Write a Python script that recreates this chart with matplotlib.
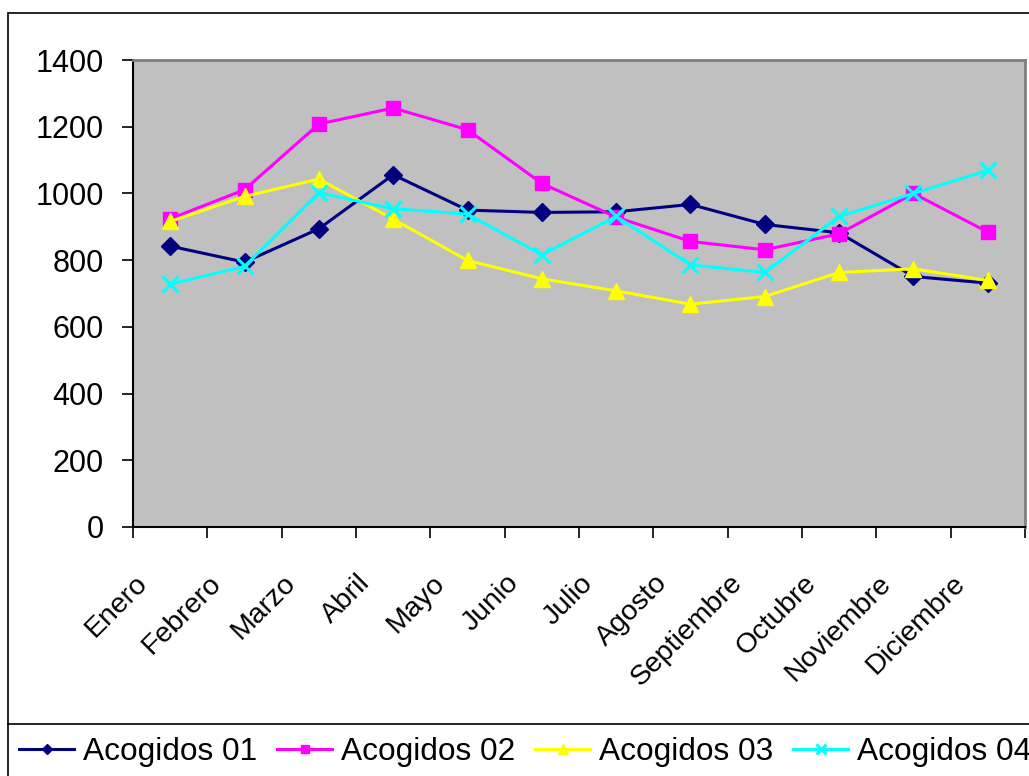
import matplotlib.pyplot as plt
from matplotlib.transforms import ScaledTranslation
from matplotlib.patches import Rectangle
from matplotlib.lines import Line2D

plt.rcParams['font.family'] = ['Liberation Sans', 'DejaVu Sans']

# Datos
meses = ['Enero', 'Febrero', 'Marzo', 'Abril', 'Mayo', 'Junio', 'Julio',
         'Agosto', 'Septiembre', 'Octubre', 'Noviembre', 'Diciembre']
acogidos_01 = [842, 794, 894, 1056, 950, 943, 945, 967, 907, 882, 751, 731]
acogidos_02 = [924, 1011, 1208, 1256, 1191, 1030, 929, 856, 831, 879, 1000, 884]
acogidos_03 = [916, 991, 1043, 923, 799, 744, 708, 668, 691, 763, 774, 739]
acogidos_04 = [728, 781, 1002, 954, 938, 816, 931, 786, 763, 931, 1000, 1069]
y_ticks = [0, 200, 400, 600, 800, 1000, 1200, 1400]

fig = plt.figure(figsize=(10.29, 7.76), dpi=100)
ax = fig.add_axes([133/1029, 1 - 527/776, (1025 - 133)/1029, (527 - 60)/776])
ax.set_facecolor('#C0C0C0')

x = list(range(len(meses)))
ax.plot(x, acogidos_01, color='#000080', marker='D', ms=9, lw=2.2, label='Acogidos 01')
ax.plot(x, acogidos_02, color='#FF00FF', marker='s', ms=10, lw=2.2, label='Acogidos 02')
ax.plot(x, acogidos_03, color='#FFFF00', marker='^', ms=12, lw=2.2, label='Acogidos 03')
ax.plot(x, acogidos_04, color='#00FFFF', marker='x', ms=11, mew=2.2, lw=2.2, label='Acogidos 04')

ax.set_xlim(-0.5, len(meses) - 0.5)
ax.set_ylim(0, 1400)
ax.set_yticks(y_ticks)
ax.tick_params(axis='y', direction='out', length=8, width=1.2, pad=13, labelsize=22)

# ticks mayores en los limites de categoria, etiquetas en el centro
ax.set_xticks([i - 0.5 for i in range(len(meses) + 1)])
ax.set_xticklabels([])
ax.set_xticks(x, minor=True)
ax.set_xticklabels(meses, minor=True, rotation=45, ha='right', va='top',
                   rotation_mode='anchor', fontsize=20.5)
ax.tick_params(axis='x', which='major', direction='out', length=8, width=1.2)
ax.tick_params(axis='x', which='minor', length=0, pad=31)
offset = ScaledTranslation(-0.36, 0, fig.dpi_scale_trans)
for lab in ax.get_xticklabels(minor=True):
    lab.set_transform(lab.get_transform() + offset)

for s in ['left', 'bottom']:
    ax.spines[s].set_color('black')
    ax.spines[s].set_linewidth(1.5)
for s in ['top', 'right']:
    ax.spines[s].set_color('#808080')
    ax.spines[s].set_linewidth(2)

# marco exterior y caja de leyenda
fig.patches.append(Rectangle((8/1029, -0.05), 1.1, 1 - 13/776 + 0.05, transform=fig.transFigure,
                             fill=False, ec='black', lw=1.2, clip_on=False))
fig.lines.append(Line2D([8/1029, 1.0], [1 - 724/776, 1 - 724/776], transform=fig.transFigure,
                        color='black', lw=1.2))

fig.legend(loc='center left', bbox_to_anchor=(19/1029, 1 - 752/776), ncol=4, frameon=False,
           fontsize=22.8, handlelength=1.74, handletextpad=0.28, columnspacing=0.63,
           markerscale=0.6, borderpad=0, borderaxespad=0)

fig.savefig('out.png', dpi=100)
